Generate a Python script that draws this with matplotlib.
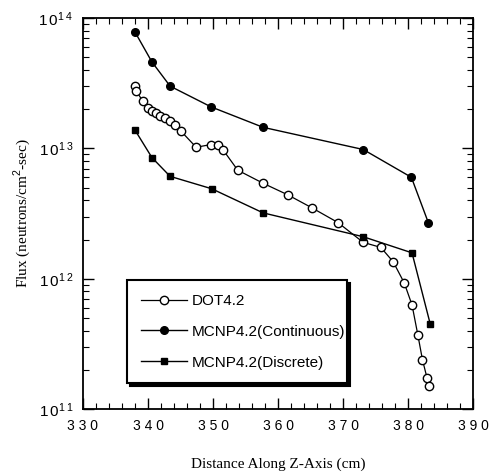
import matplotlib
matplotlib.use('Agg')
import matplotlib.pyplot as plt
from matplotlib.ticker import LogLocator, MultipleLocator

plt.rcParams['mathtext.fontset'] = 'custom'
plt.rcParams['mathtext.rm'] = 'Liberation Sans'

# DOT4.2 (open circles)
dot_z = [338.0, 338.2, 339.2, 340.0, 340.6, 341.2, 341.8, 342.6, 343.4, 344.2,
         345.1, 347.4, 349.7, 350.7, 351.5, 353.8, 357.7, 361.5, 365.2, 369.2,
         373.1, 375.8, 377.7, 379.4, 380.6, 381.5, 382.2, 382.9, 383.2]
dot_flux = [3.0e13, 2.75e13, 2.3e13, 2.05e13, 1.95e13, 1.86e13, 1.78e13, 1.70e13,
            1.62e13, 1.51e13, 1.35e13, 1.02e13, 1.07e13, 1.07e13, 9.8e12, 6.8e12,
            5.4e12, 4.4e12, 3.5e12, 2.7e12, 1.9e12, 1.74e12, 1.35e12, 9.3e11,
            6.3e11, 3.7e11, 2.4e11, 1.74e11, 1.5e11]

# MCNP4.2 continuous (filled circles)
cont_z = [338.0, 340.6, 343.4, 349.7, 357.7, 373.1, 380.5, 383.1]
cont_flux = [7.8e13, 4.6e13, 3.0e13, 2.08e13, 1.45e13, 9.8e12, 6.0e12, 2.7e12]

# MCNP4.2 discrete (filled squares)
disc_z = [338.0, 340.6, 343.4, 349.8, 357.7, 373.1, 380.6, 383.4]
disc_flux = [1.38e13, 8.5e12, 6.1e12, 4.9e12, 3.2e12, 2.1e12, 1.58e12, 4.5e11]

xticks = [330, 340, 350, 360, 370, 380, 390]
yticks = [1e11, 1e12, 1e13, 1e14]
ytick_labels = ['$\\mathrm{1\\,0^{1\\,1}}$', '$\\mathrm{1\\,0^{1\\,2}}$',
                '$\\mathrm{1\\,0^{1\\,3}}$', '$\\mathrm{1\\,0^{1\\,4}}$']

fig = plt.figure(figsize=(4.97, 4.73), dpi=100)
ax = fig.add_axes([0.167, 0.135, 0.785, 0.827])

ax.plot(dot_z, dot_flux, '-', color='black', lw=0.9, marker='o', ms=6,
        mfc='white', mec='black', mew=1.0, label='DOT4.2')
ax.plot(cont_z, cont_flux, '-', color='black', lw=1.0, marker='o', ms=5.5,
        mfc='black', mec='black', label='MCNP4.2(Continuous)')
ax.plot(disc_z, disc_flux, '-', color='black', lw=1.0, marker='s', ms=5,
        mfc='black', mec='black', label='MCNP4.2(Discrete)')

ax.set_yscale('log')
ax.set_xlim(330, 390)
ax.set_ylim(1e11, 1e14)

ax.set_xticks(xticks)
ax.set_xticklabels([' '.join(str(t)) for t in xticks], family='Liberation Sans', fontsize=10)
ax.xaxis.set_minor_locator(MultipleLocator(2))
ax.set_yticks(yticks)
ax.set_yticklabels(ytick_labels, fontsize=11)
ax.yaxis.set_minor_locator(LogLocator(base=10, subs=range(2, 10)))
ax.yaxis.set_minor_formatter(plt.NullFormatter())

ax.tick_params(which='both', direction='in', top=True, right=True)
ax.tick_params(which='major', length=8, width=1.0, pad=7)
ax.tick_params(which='minor', length=4, width=0.8)
for s in ax.spines.values():
    s.set_linewidth(1.3)

ax.set_xlabel('Distance Along Z-Axis (cm)', family='Liberation Serif', fontsize=11, labelpad=18)
ax.set_ylabel('Flux (neutrons/cm$^2$-sec)', family='Liberation Serif', fontsize=11, labelpad=4)

leg = ax.legend(loc='lower left', bbox_to_anchor=(0.113, 0.066, 0.564, 0.27),
                mode='expand', prop={'family': 'Liberation Sans', 'size': 11},
                frameon=True, fancybox=False, borderaxespad=0,
                shadow={'color': 'black', 'alpha': 1.0},
                labelspacing=1.1, handlelength=3.0, handletextpad=0.3,
                borderpad=0.9)
leg.get_frame().set_edgecolor('black')
leg.get_frame().set_linewidth(1.5)
leg.get_frame().set_alpha(1.0)

fig.savefig('out.png', dpi=100)
